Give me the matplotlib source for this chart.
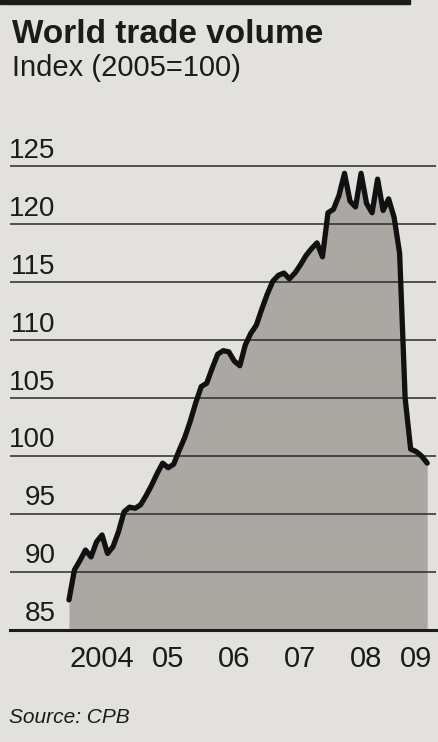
import numpy as np
import matplotlib
matplotlib.use("Agg")
import matplotlib.pyplot as plt
from matplotlib.patches import Rectangle

plt.rcParams['font.family'] = ['Liberation Sans', 'DejaVu Sans']

# monthly world trade volume index, Jan 2004 onwards (2005=100)
first_year = 2004
trade_index = [
    87.6, 90.2, 91.0, 91.9, 91.3, 92.6, 93.2, 91.6, 92.2, 93.5, 95.2, 95.6,
    95.5, 95.8, 96.6, 97.5, 98.5, 99.4, 99.0, 99.3, 100.5, 101.6, 103.0, 104.6,
    106.0, 106.3, 107.6, 108.8, 109.1, 109.0, 108.2, 107.8, 109.6, 110.6, 111.3, 112.7,
    114.0, 115.1, 115.6, 115.8, 115.3, 115.8, 116.5, 117.3, 117.9, 118.4, 117.2, 121.0,
    121.3, 122.5, 124.4, 122.0, 121.5, 124.4, 121.8, 121.0, 123.9, 121.2, 122.2, 120.6,
    117.5, 105.0, 100.6, 100.4, 100.0, 99.4,
]
y_ticks = [85, 90, 95, 100, 105, 110, 115, 120, 125]
year_labels = ['2004', '05', '06', '07', '08', '09']

paper = '#e3e1dd'
ink = '#1b1b1b'
shade = '#aba8a4'

months = np.arange(len(trade_index))
values = np.array(trade_index)

fig = plt.figure(figsize=(4.39, 7.42), dpi=100, facecolor=paper)
ax = fig.add_axes([10 / 439, 112 / 742, 426 / 439, 481 / 742])
ax.set_facecolor(paper)
ax.set_xlim(-10.7, 66.6)
ax.set_ylim(85, 126.5)
for s in ax.spines.values():
    s.set_visible(False)
ax.set_yticks([])

# shaded area under the index
ax.fill_between(months, values, 85, color=shade, lw=0, zorder=1)

# horizontal rules with the scale figures sitting on top of them
for v in y_ticks:
    if v == 85:
        ax.axhline(v, xmin=0, xmax=1.01, color=ink, lw=2.2, zorder=2, clip_on=False)
    else:
        ax.axhline(v, color='#2a2a2a', lw=1.1, zorder=2)
    ax.text(-2.4, v + 0.75, str(v), ha='right', va='baseline',
            fontsize=20, color=ink, zorder=4)

ax.plot(months, values, color='#111111', lw=3.8, solid_joinstyle='round',
        solid_capstyle='round', zorder=3)

# year labels centred on each year's months
years = first_year + months // 12
pos = [months[years == y].mean() + 0.5 for y in np.unique(years)]
ax.set_xticks(pos)
ax.set_xticklabels(year_labels, fontsize=21, color=ink)
ax.tick_params(axis='x', length=0, pad=11)

# header and footer
fig.patches.append(Rectangle((0, 1 - 4 / 742), 410 / 439, 4 / 742,
                             transform=fig.transFigure, color=ink))
fig.text(12 / 439, 1 - 43 / 742, 'World trade volume', fontsize=24,
         fontweight='bold', color=ink, ha='left', va='baseline')
fig.text(12 / 439, 1 - 76 / 742, 'Index (2005=100)', fontsize=21,
         color=ink, ha='left', va='baseline')
fig.text(9 / 439, 1 - 723 / 742, 'Source: CPB', fontsize=15, style='italic',
         color=ink, ha='left', va='baseline')

fig.savefig('out.png', dpi=100, facecolor=paper)
